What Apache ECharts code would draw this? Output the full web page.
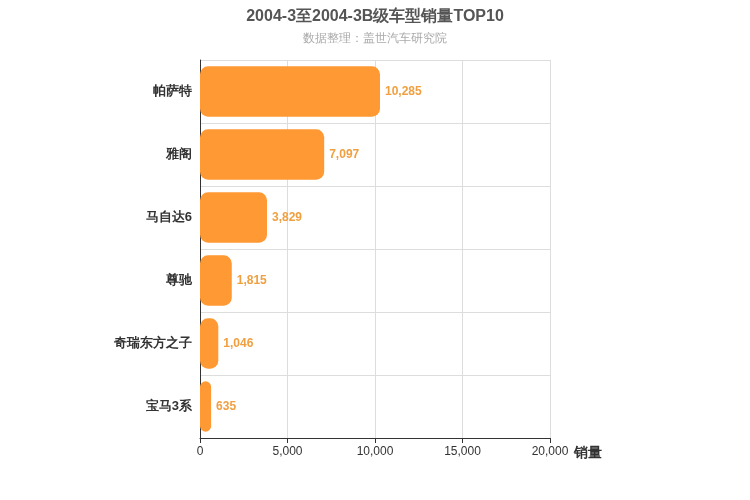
<!DOCTYPE html>
<html lang="zh">
<head>
<meta charset="UTF-8">
<title>B级车型销量</title>
<script src="https://cdn.jsdelivr.net/npm/echarts@6/dist/echarts.min.js"></script>
</head>
<body style="margin:0">
<div id="main" style="width:750px;height:500px;"></div>
<script>
var models = ['帕萨特', '雅阁', '马自达6', '尊驰', '奇瑞东方之子', '宝马3系'];
var sales = [10285, 7097, 3829, 1815, 1046, 635];

var chart = echarts.init(document.getElementById('main'));
chart.setOption({
  backgroundColor: '#fff',
  title: {
    text: '2004-3至2004-3B级车型销量TOP10',
    subtext: '数据整理：盖世汽车研究院',
    left: 'center',
    top: 4,
    itemGap: 8,
    textStyle: { fontSize: 16, fontWeight: 'bold', color: '#555' },
    subtextStyle: { fontSize: 12, color: '#aaa' }
  },
  grid: { left: 200, right: 200, top: 60, bottom: 62 },
  xAxis: {
    type: 'value',
    min: 0, max: 20000, interval: 5000,
    name: '销量',
    nameGap: 15,
    nameTextStyle: { fontSize: 14, fontWeight: 'bold', color: '#333', verticalAlign: 'top', padding: [8, 0, 0, 0] },
    axisLine: { show: true, lineStyle: { color: '#333' } },
    axisTick: { show: true },
    axisLabel: { color: '#333' },
    splitLine: { lineStyle: { color: '#ddd' } }
  },
  yAxis: {
    type: 'category',
    inverse: true,
    data: models,
    axisLine: { lineStyle: { color: '#333' } },
    axisLabel: { color: '#333', fontSize: 13, fontWeight: 'bold' },
    splitLine: { show: true, lineStyle: { color: '#ddd' } }
  },
  series: [{
    type: 'bar',
    data: sales,
    barWidth: '80%',
    itemStyle: { color: '#FF9933', borderRadius: 8 },
    label: { show: true, position: 'right', color: '#F0A040', fontSize: 12, fontWeight: 'bold',
      formatter: function (p) { return p.value.toLocaleString('en-US'); } }
  }]
});
</script>
</body>
</html>
